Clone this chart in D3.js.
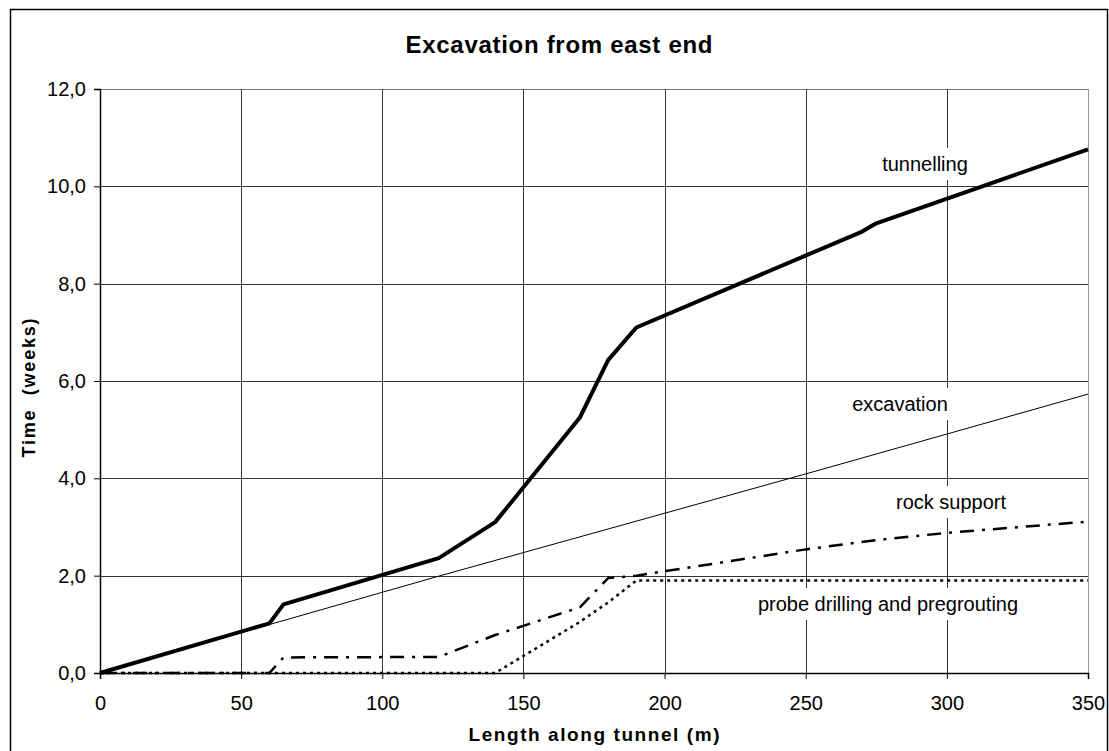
<!DOCTYPE html>
<html>
<head>
<meta charset="utf-8">
<script src="https://cdn.jsdelivr.net/npm/d3@7"></script>
<style>
  body { margin: 0; background: #fff; }
  text { font-family: "Liberation Sans", Arial, sans-serif; fill: #000; }
</style>
</head>
<body>
<script>
// values
var xTicks = [0, 50, 100, 150, 200, 250, 300, 350];
var yTicks = [0, 2, 4, 6, 8, 10, 12];

var tunnellingX = [0, 60, 65, 120, 140, 170, 180, 190, 270, 275, 350];
var tunnellingY = [0, 1.02, 1.41, 2.36, 3.1, 5.25, 6.43, 7.1, 9.07, 9.24, 10.76];

var excavationX = [0, 120, 250, 350];
var excavationY = [0, 1.99, 4.09, 5.73];

var rockX = [0, 60, 65, 120, 140, 170, 180, 190, 250, 275, 300, 350];
var rockY = [0, 0, 0.32, 0.33, 0.78, 1.35, 1.95, 2.0, 2.54, 2.73, 2.88, 3.11];

var probeX = [0, 140, 170, 180, 190, 350];
var probeY = [0, 0, 1.05, 1.45, 1.9, 1.9];

var w = 1109, h = 751;
// plot box (note: "top" is taken by window.top, so prefix these)
var plotL = 100, plotR = 1088, plotT = 89, plotB = 673;

var svg = d3.select("body").append("svg")
    .attr("width", w)
    .attr("height", h);

svg.append("rect")
    .attr("width", w)
    .attr("height", h)
    .attr("fill", "#fff");

// chart area frame (bottom edge runs off the picture)
svg.append("rect")
    .attr("x", 10.5)
    .attr("y", 9.5)
    .attr("width", 1097)
    .attr("height", 800)
    .attr("fill", "none")
    .attr("stroke", "#000")
    .attr("stroke-width", 1.5);

var x = d3.scaleLinear().domain([0, 350]).range([plotL, plotR]);
var y = d3.scaleLinear().domain([0, 12]).range([plotB, plotT]);

var comma = d3.formatLocale({decimal: ",", thousands: ".", grouping: [3], currency: ["", ""]}).format(".1f");

// gridlines
svg.append("g")
    .selectAll("line")
    .data(yTicks.slice(1))
  .enter().append("line")
    .attr("x1", plotL).attr("x2", plotR)
    .attr("y1", function(d) { return Math.round(y(d)) + 0.5; })
    .attr("y2", function(d) { return Math.round(y(d)) + 0.5; })
    .attr("stroke", function(d) { return d === 12 ? "#777" : "#333"; })
    .attr("shape-rendering", "crispEdges");

svg.append("g")
    .selectAll("line")
    .data(xTicks.slice(1))
  .enter().append("line")
    .attr("y1", plotT).attr("y2", plotB)
    .attr("x1", function(d) { return Math.round(x(d)) + 0.5; })
    .attr("x2", function(d) { return Math.round(x(d)) + 0.5; })
    .attr("stroke", function(d) { return d === 350 ? "#999" : "#333"; })
    .attr("shape-rendering", "crispEdges");

// label boxes knock out the gridlines behind the series names
var labels = [
  {text: "tunnelling", cx: 925, base: 171},
  {text: "excavation", cx: 900, base: 411},
  {text: "rock support", cx: 951, base: 509},
  {text: "probe drilling and pregrouting", cx: 888, base: 611}
];

var lab = svg.append("g").selectAll("g")
    .data(labels)
  .enter().append("g");

lab.append("rect").attr("fill", "#fff");
lab.append("text")
    .attr("x", function(d) { return d.cx; })
    .attr("y", function(d) { return d.base; })
    .attr("text-anchor", "middle")
    .style("font-size", "20px")
    .text(function(d) { return d.text; });

lab.each(function() {
  var g = d3.select(this),
      b = g.select("text").node().getBBox();
  g.select("rect")
      .attr("x", b.x - 4).attr("y", b.y - 5)
      .attr("width", b.width + 8).attr("height", b.height + 10);
});

// axes
var yAxis = svg.append("g")
    .attr("transform", "translate(" + plotL + ",0)")
    .call(d3.axisLeft(y).tickValues(yTicks).tickSize(6).tickPadding(8).tickFormat(comma));

var xAxis = svg.append("g")
    .attr("transform", "translate(0," + plotB + ")")
    .call(d3.axisBottom(x).tickValues(xTicks).tickSize(6).tickPadding(17).tickFormat(d3.format("d")));

[xAxis, yAxis].forEach(function(a) {
  a.select(".domain").attr("stroke", "#000").attr("stroke-width", 1.5);
  a.selectAll(".tick line").attr("stroke", "#000");
  a.selectAll(".tick text")
      .attr("fill", "#000")
      .style("font-family", "'Liberation Sans', Arial, sans-serif")
      .style("font-size", "20px");
});

// series
function series(xs, ys) {
  return xs.map(function(v, i) { return [v, ys[i]]; });
}

var line = d3.line()
    .x(function(d) { return x(d[0]); })
    .y(function(d) { return y(d[1]); });

svg.append("path")
    .attr("d", line(series(excavationX, excavationY)))
    .attr("fill", "none")
    .attr("stroke", "#000")
    .attr("stroke-width", 1);

svg.append("path")
    .attr("d", line(series(probeX, probeY)))
    .attr("fill", "none")
    .attr("stroke", "#000")
    .attr("stroke-width", 2.5)
    .attr("stroke-dasharray", "3,4");

svg.append("path")
    .attr("d", line(series(rockX, rockY)))
    .attr("fill", "none")
    .attr("stroke", "#000")
    .attr("stroke-width", 2.5)
    .attr("stroke-dasharray", "14,8,3,8");

svg.append("path")
    .attr("d", line(series(tunnellingX, tunnellingY)))
    .attr("fill", "none")
    .attr("stroke", "#000")
    .attr("stroke-width", 4)
    .attr("stroke-linejoin", "round");

// titles
svg.append("text")
    .attr("x", 559)
    .attr("y", 53)
    .attr("text-anchor", "middle")
    .attr("textLength", 307)
    .attr("lengthAdjust", "spacing")
    .style("font-size", "24px")
    .style("font-weight", "bold")
    .text("Excavation from east end");

svg.append("text")
    .attr("x", 594)
    .attr("y", 741)
    .attr("text-anchor", "middle")
    .attr("textLength", 251)
    .attr("lengthAdjust", "spacing")
    .style("font-size", "19px")
    .style("font-weight", "bold")
    .text("Length along tunnel (m)");

svg.append("text")
    .attr("transform", "translate(35,388)rotate(-90)")
    .attr("text-anchor", "middle")
    .attr("textLength", 139)
    .attr("lengthAdjust", "spacing")
    .style("font-size", "18px")
    .style("font-weight", "bold")
    .style("white-space", "pre")
    .text("Time  (weeks)");
</script>
</body>
</html>
